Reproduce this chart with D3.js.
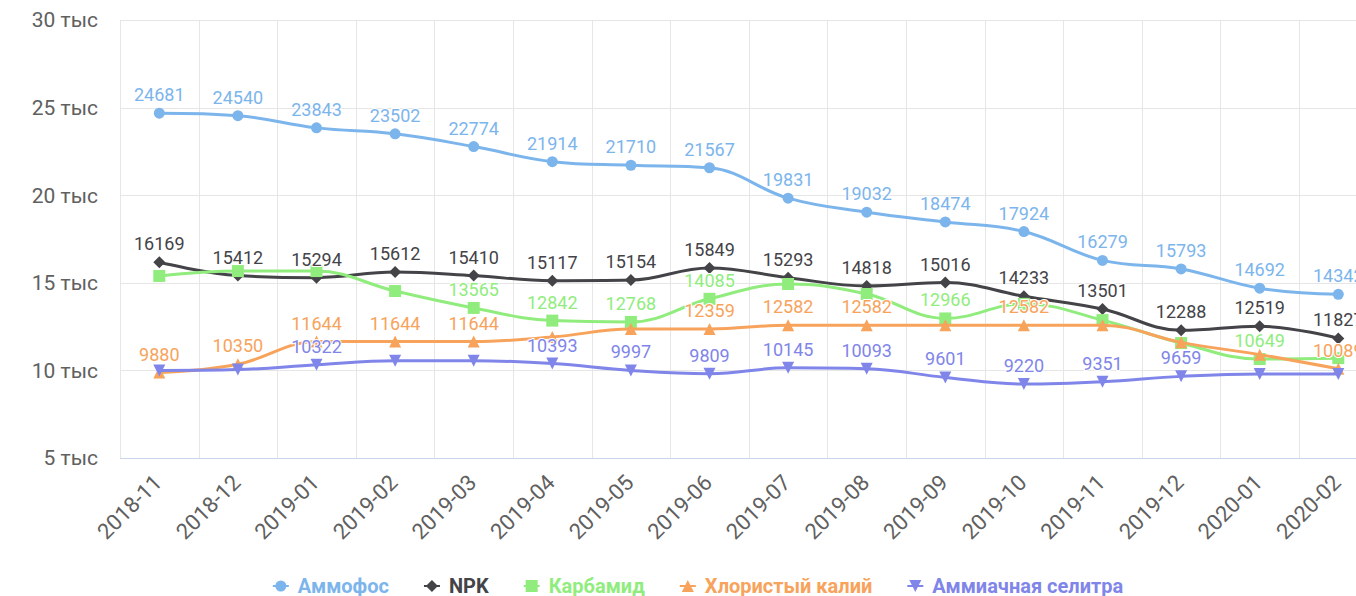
<!DOCTYPE html>
<html>
<head>
<meta charset="utf-8">
<script src="https://cdn.jsdelivr.net/npm/d3@7"></script>
<style>
  body { margin: 0; background: #fff; }
  svg { display: block; font-family: Roboto, "Noto Sans", sans-serif; }
</style>
</head>
<body>
<svg id="view" width="1356" height="596"></svg>
<script>
// Data
var categories = ['2018-11','2018-12','2019-01','2019-02','2019-03','2019-04','2019-05','2019-06',
  '2019-07','2019-08','2019-09','2019-10','2019-11','2019-12','2020-01','2020-02'];
var seriesNames = ['Аммофос','NPK','Карбамид','Хлористый калий','Аммиачная селитра'];
var ammofos  = [24681,24540,23843,23502,22774,21914,21710,21567,19831,19032,18474,17924,16279,15793,14692,14342];
var npk      = [16169,15412,15294,15612,15410,15117,15154,15849,15293,14818,15016,14233,13501,12288,12519,11827];
var karbamid = [15390,15670,15670,14530,13565,12842,12768,14085,14930,14360,12966,13800,12870,11560,10649,10700];
var kaliy    = [9880,10350,11644,11644,11644,11900,12359,12359,12582,12582,12582,12582,12582,11600,10900,10089];
var selitra  = [10000,10050,10322,10550,10550,10393,9997,9809,10145,10093,9601,9220,9351,9659,9800,9800];
var yTicks   = [5000,10000,15000,20000,25000,30000];

var colors  = ['#7cb5ec','#434348','#90ed7d','#f7a35c','#8085e9'];
var symbols = ['circle','diamond','square','triangle','triangle-down'];
var allValues = [ammofos, npk, karbamid, kaliy, selitra];

var svg = d3.select('svg#view');
var plotLeft = 120, plotTop = 20, plotBottom = 458, band = 78.6;

var x = d3.scaleBand().domain(categories).range([plotLeft, plotLeft + band * categories.length]);
var y = d3.scaleLinear().domain([5000, 30000]).range([plotBottom, plotTop]);
var cx = function(c) { return x(c) + x.bandwidth() / 2; };

// grid
var grid = svg.append('g');
grid.selectAll('line.h').data(yTicks.slice(1)).enter().append('line')
  .attr('x1', plotLeft).attr('x2', 1356).attr('y1', d => Math.round(y(d)) + 0.5).attr('y2', d => Math.round(y(d)) + 0.5)
  .attr('stroke', '#e6e6e6');
grid.selectAll('line.v').data(categories).enter().append('line')
  .attr('x1', d => Math.round(x(d)) + 0.5).attr('x2', d => Math.round(x(d)) + 0.5)
  .attr('y1', plotTop).attr('y2', plotBottom)
  .attr('stroke', '#e6e6e6');
grid.append('line').attr('x1', plotLeft).attr('x2', 1356).attr('y1', plotBottom + 0.5).attr('y2', plotBottom + 0.5)
  .attr('stroke', '#ccd6eb');

// y labels
svg.append('g').selectAll('text').data(yTicks).enter().append('text')
  .attr('x', 98).attr('y', d => y(d)).attr('dy', '0.35em')
  .attr('text-anchor', 'end').attr('font-size', 21).attr('fill', '#606060')
  .text(d => (d / 1000) + ' тыс');

// x labels
svg.append('g').selectAll('text').data(categories).enter().append('text')
  .attr('transform', d => 'translate(' + (cx(d) + 4) + ',' + 484 + ') rotate(-45)')
  .attr('text-anchor', 'end').attr('font-size', 22).attr('fill', '#606060')
  .text(d => d);

// highcharts-like spline
function spline(pts) {
  var p = d3.path(), n = pts.length;
  var lc = [], rc = [];
  pts.forEach(function(pt, i) {
    if (i === 0 || i === n - 1) { lc[i] = pt; rc[i] = pt; return; }
    var last = pts[i - 1], next = pts[i + 1];
    var lx = (1.5 * pt[0] + last[0]) / 2.5, ly = (1.5 * pt[1] + last[1]) / 2.5;
    var rx = (1.5 * pt[0] + next[0]) / 2.5, ry = (1.5 * pt[1] + next[1]) / 2.5;
    var corr = ((ry - ly) * (rx - pt[0])) / (rx - lx) + pt[1] - ry;
    ly += corr; ry += corr;
    if (ly > last[1] && ly > pt[1]) { ly = Math.max(last[1], pt[1]); ry = 2 * pt[1] - ly; }
    else if (ly < last[1] && ly < pt[1]) { ly = Math.min(last[1], pt[1]); ry = 2 * pt[1] - ly; }
    if (ry > next[1] && ry > pt[1]) { ry = Math.max(next[1], pt[1]); ly = 2 * pt[1] - ry; }
    else if (ry < next[1] && ry < pt[1]) { ry = Math.min(next[1], pt[1]); ly = 2 * pt[1] - ry; }
    lc[i] = [lx, ly]; rc[i] = [rx, ry];
  });
  pts.forEach(function(pt, i) {
    if (i === 0) { p.moveTo(pt[0], pt[1]); return; }
    p.bezierCurveTo(rc[i - 1][0], rc[i - 1][1], lc[i][0], lc[i][1], pt[0], pt[1]);
  });
  return p.toString();
}

function marker(type, px, py) {
  var r = 6;
  if (type === 'circle') { r = 5.5; return 'M' + (px - r) + ',' + py + 'a' + r + ',' + r + ' 0 1,0 ' + (2 * r) + ',0a' + r + ',' + r + ' 0 1,0 ' + (-2 * r) + ',0Z'; }
  if (type === 'square') return 'M' + (px - r) + ',' + (py - r) + 'h' + 2 * r + 'v' + 2 * r + 'h' + (-2 * r) + 'Z';
  if (type === 'diamond') return 'M' + px + ',' + (py - r) + 'L' + (px + r) + ',' + py + 'L' + px + ',' + (py + r) + 'L' + (px - r) + ',' + py + 'Z';
  if (type === 'triangle') return 'M' + px + ',' + (py - r) + 'L' + (px + r) + ',' + (py + r) + 'L' + (px - r) + ',' + (py + r) + 'Z';
  return 'M' + (px - r) + ',' + (py - r) + 'L' + (px + r) + ',' + (py - r) + 'L' + px + ',' + (py + r) + 'Z';
}

// series
var seriesG = svg.append('g');
allValues.forEach(function(vals, s) {
  var pts = vals.map((v, i) => [cx(categories[i]), y(v)]);
  seriesG.append('path').attr('d', spline(pts)).attr('fill', 'none')
    .attr('stroke', colors[s]).attr('stroke-width', 3).attr('stroke-linejoin', 'round');
  seriesG.append('g').selectAll('path').data(pts).enter().append('path')
    .attr('d', d => marker(symbols[s], d[0], d[1])).attr('fill', colors[s]);
});

// data labels with overlap hiding (earlier series win)
var labelsG = svg.append('g');
var shown = [];
allValues.forEach(function(vals, s) {
  vals.forEach(function(v, i) {
    var px = cx(categories[i]), py = y(v);
    var t = labelsG.append('text')
      .attr('x', px).attr('y', py - 12)
      .attr('text-anchor', 'middle').attr('font-size', 18)
      .attr('fill', colors[s]).attr('stroke', '#fff').attr('stroke-width', 2)
      .attr('paint-order', 'stroke').text(v);
    var w = t.node().getComputedTextLength();
    var box = { x: px, y: py - 18, w: w };
    var hit = shown.some(b => Math.abs(b.x - box.x) < (b.w + box.w) / 2 && Math.abs(b.y - box.y) < 22);
    if (hit) t.remove(); else shown.push(box);
  });
});

// legend
var legend = svg.append('g');
var items = seriesNames.map(function(name, s) {
  var g = legend.append('g');
  g.append('line').attr('x1', -8).attr('x2', 8).attr('y1', 0).attr('y2', 0)
    .attr('stroke', colors[s]).attr('stroke-width', 2);
  g.append('path').attr('d', marker(symbols[s], 0, 0)).attr('fill', colors[s]);
  var t = g.append('text').attr('x', 17).attr('dy', '0.35em')
    .attr('font-size', 20).attr('font-weight', 'bold').attr('fill', colors[s]).text(name);
  return { g: g, w: 17 + t.node().getComputedTextLength() };
});
var total = d3.sum(items, d => d.w) + 43 * (items.length - 1) + 8;
var lx = 698 - total / 2 + 8;
items.forEach(function(it) {
  it.g.attr('transform', 'translate(' + lx + ',586)');
  lx += it.w + 43;
});
</script>
</body>
</html>
